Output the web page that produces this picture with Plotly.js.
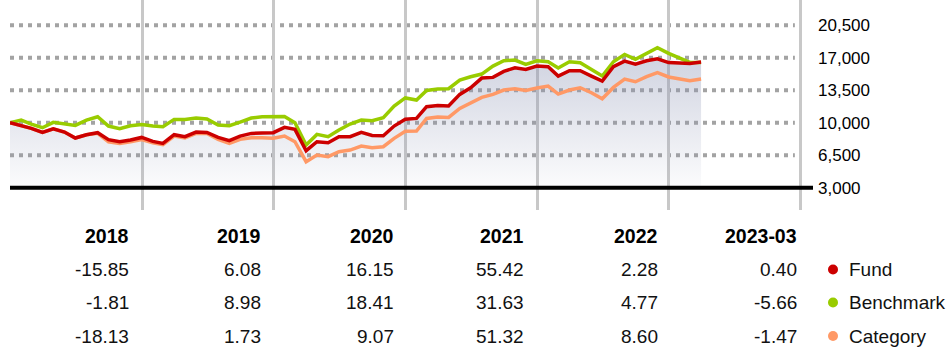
<!DOCTYPE html>
<html><head><meta charset="utf-8">
<script src="https://cdn.plot.ly/plotly-3.0.1.min.js"></script>
<style>html,body{margin:0;padding:0;background:#fff;} #chart{width:950px;height:359px;}</style>
</head><body><div id="chart"></div>
<script>
// ---- data (growth of 10,000, monthly, end of Dec 2017 .. end of Mar 2023) ----
const seriesNames = ['Fund', 'Benchmark', 'Category'];
const seriesColors = ['#cc0000', '#99cc00', '#ff9966'];

const fundVals = [10000,9713,9390,8959,9354,8995,8349,8708,8924,8170,7954,8134,8415,
  7990,7775,8708,8493,8995,8959,8421,8062,8565,8852,8888,8927,
  9498,9283,6985,7954,7847,8493,8493,8959,8636,8600,9642,10369,
  10467,11724,11867,11796,13052,13770,14811,14883,15529,15924,15745,16115,
  16032,15027,15601,15601,15027,14488,16032,16642,16319,16678,16893,16482,
  16427,16391,16548];

const benchVals = [10000,10288,9857,9462,10036,9857,9713,10288,10647,9642,9354,9677,9819,
  9642,9570,10360,10360,10503,10395,9749,9677,10072,10503,10647,10700,
  10683,10000,7595,8744,8493,9211,9857,10288,10216,10539,11796,12670,
  12442,13483,13626,13662,14596,14955,15242,16104,16678,16750,16283,16678,
  16570,15888,16570,16463,15745,15027,16570,17360,16822,17468,18078,17474,
  17001,16498,16485];

const catVals = [10000,9713,9390,8959,9354,8995,8349,8708,8852,7954,7775,7954,8187,
  7847,7631,8565,8349,8852,8852,8206,7775,8206,8385,8385,8329,
  8565,7954,5800,6518,6339,6877,7057,7488,7308,7416,8313,9084,
  9103,10467,10611,10575,11544,12083,12729,13052,13519,13662,13483,13746,
  13950,13088,13519,13770,13232,12585,13806,14703,14416,14955,15386,14928,
  14739,14524,14709];

const years = ['2018', '2019', '2020', '2021', '2022', '2023-03'];
const fundRet = [-15.85, 6.08, 16.15, 55.42, 2.28, 0.40];
const benchRet = [-1.81, 8.98, 18.41, 31.63, 4.77, -5.66];
const catRet = [-18.13, 1.73, 9.07, 51.32, 8.60, -1.47];

const yTicks = [3000, 6500, 10000, 13500, 17000, 20500];
const yearLines = ['2019-01-01', '2020-01-01', '2021-01-01', '2022-01-01', '2023-01-01', '2024-01-01'];
const baseValue = yTicks[0];

// month-end dates for the x axis
const months = [];
for (let i = 0; i < fundVals.length; i++) {
  months.push(new Date(Date.UTC(2018, i, 0)).toISOString().slice(0, 10));
}

// ---- layout helpers ----
const PLOT_L = 10, PLOT_W = 803, PLOT_H = 210;
const px2paperX = p => (p - PLOT_L) / PLOT_W;
const px2paperY = p => (PLOT_H - p) / PLOT_H;
const numFont = 'Liberation Sans, Arial, sans-serif';
const axisFont = 'Liberation Sans, Arial, sans-serif';

const traces = [
  { x: months, y: months.map(() => baseValue), type: 'scatter', mode: 'lines',
    line: { width: 0 }, hoverinfo: 'skip', showlegend: false },
  { x: months, y: fundVals, type: 'scatter', mode: 'lines', line: { width: 0 },
    fill: 'tonexty',
    fillgradient: { type: 'vertical', start: 3000, stop: 17500,
      colorscale: [[0, 'rgba(140,148,180,0.03)'], [1, 'rgba(140,148,180,0.42)']] },
    hoverinfo: 'skip', showlegend: false },
  { x: months, y: catVals, type: 'scatter', mode: 'lines', name: seriesNames[2],
    line: { color: seriesColors[2], width: 3.5 } },
  { x: months, y: benchVals, type: 'scatter', mode: 'lines', name: seriesNames[1],
    line: { color: seriesColors[1], width: 3.5 } },
  { x: months, y: fundVals, type: 'scatter', mode: 'lines', name: seriesNames[0],
    line: { color: seriesColors[0], width: 3.5 } }
];

const shapes = [];
yTicks.slice(1).forEach(v => shapes.push({
  type: 'line', xref: 'x', yref: 'y', x0: '2017-12-31', x1: '2023-12-16', y0: v, y1: v,
  line: { color: '#a3a3a3', width: 4, dash: '4px,5px' }, layer: 'below'
}));
shapes.push({ type: 'line', xref: 'paper', yref: 'y', x0: 0, x1: 1, y0: baseValue, y1: baseValue,
  line: { color: '#000', width: 4 }, layer: 'above' });

const annotations = [];
const colRightPx = [131, 263, 396, 526, 660, 799];
const rowPx = [235.5, 269.5, 302.5, 336];
const retRows = [fundRet, benchRet, catRet];
years.forEach((yr, i) => {
  annotations.push({ xref: 'paper', yref: 'paper', x: px2paperX(colRightPx[i]), y: px2paperY(rowPx[0]),
    xanchor: 'right', yanchor: 'middle', showarrow: false, text: '<b>' + yr + '</b>',
    font: { family: numFont, size: 19.5, color: '#000' } });
  retRows.forEach((arr, r) => {
    annotations.push({ xref: 'paper', yref: 'paper', x: px2paperX(colRightPx[i]), y: px2paperY(rowPx[r + 1]),
      xanchor: 'right', yanchor: 'middle', showarrow: false, text: arr[i].toFixed(2),
      font: { family: numFont, size: 19, color: '#111' } });
  });
});
seriesNames.forEach((nm, r) => {
  const yp = px2paperY(rowPx[r + 1]);
  shapes.push({ type: 'circle', xref: 'paper', yref: 'paper', xsizemode: 'pixel', ysizemode: 'pixel',
    xanchor: px2paperX(833), yanchor: yp, x0: -5, x1: 5, y0: -5, y1: 5,
    fillcolor: seriesColors[r], line: { width: 0 } });
  annotations.push({ xref: 'paper', yref: 'paper', x: px2paperX(847), y: yp,
    xanchor: 'left', yanchor: 'middle', showarrow: false, text: nm,
    font: { family: numFont, size: 19, color: '#111' } });
});

const layout = {
  width: 950, height: 359,
  margin: { l: PLOT_L, r: 950 - PLOT_L - PLOT_W, t: 0, b: 359 - PLOT_H },
  paper_bgcolor: '#fff', plot_bgcolor: '#fff', showlegend: false,
  xaxis: { type: 'date', range: ['2017-12-31', '2024-02-04 08:00'], tickvals: yearLines,
    showticklabels: false, showgrid: true, gridcolor: '#c8c8c8', gridwidth: 3,
    zeroline: false, showline: false, ticks: '', fixedrange: true },
  yaxis: { range: [598, 23221], side: 'right', tickvals: yTicks, tickformat: ',',
    tickfont: { family: axisFont, size: 17, color: '#000' }, ticklabelstandoff: 4,
    showgrid: false, zeroline: false, showline: false, ticks: '', fixedrange: true },
  shapes: shapes, annotations: annotations
};

Plotly.newPlot('chart', traces, layout, { staticPlot: true, displayModeBar: false });
</script>
</body></html>
